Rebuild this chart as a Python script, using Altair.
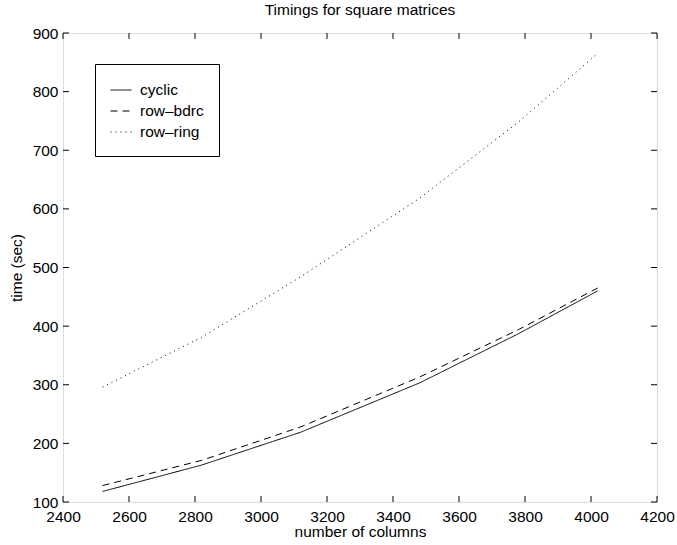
import altair as alt
import pandas as pd

# ---- data ----
columns = [2520, 2820, 3120, 3480, 3780, 4020]
cyclic = [118, 163, 219, 303, 387, 460]
row_bdrc = [128, 171, 228, 313, 394, 465]
row_ring = [296, 381, 484, 618, 748, 865]
series_names = ["cyclic", "row\u2013bdrc", "row\u2013ring"]
x_ticks = [2400, 2600, 2800, 3000, 3200, 3400, 3600, 3800, 4000, 4200]
y_ticks = [100, 200, 300, 400, 500, 600, 700, 800, 900]

rows = []
for name, vals in zip(series_names, [cyclic, row_bdrc, row_ring]):
    for c, v in zip(columns, vals):
        rows.append({"columns": c, "time": v, "series": name})
df = pd.DataFrame(rows)

W, H = 594, 469
FONT = "Liberation Sans"
FS = 15.5
TICK = 6

xscale = alt.Scale(domain=[2400, 4200], nice=False, zero=False)
yscale = alt.Scale(domain=[100, 900], nice=False, zero=False)

xaxis = alt.Axis(title="number of columns", values=x_ticks, tickSize=0, ticks=False,
                 labelPadding=7, domain=False, grid=False,
                 labelFont=FONT, labelFontSize=FS, labelColor="black",
                 titleFont=FONT, titleFontSize=FS, titleFontWeight="normal",
                 titleColor="black", titlePadding=0, format="d",
                 labelFlush=False)
yaxis = alt.Axis(title="time (sec)", values=y_ticks, tickSize=0, ticks=False,
                 labelPadding=5, domain=False, grid=False,
                 labelFont=FONT, labelFontSize=FS, labelColor="black",
                 titleFont=FONT, titleFontSize=FS, titleFontWeight="normal",
                 titleColor="black", titlePadding=8, format="d",
                 labelFlush=False)

lines = alt.Chart(df).mark_line(color="black", strokeWidth=1).encode(
    x=alt.X("columns:Q", scale=xscale, axis=xaxis),
    y=alt.Y("time:Q", scale=yscale, axis=yaxis),
    strokeDash=alt.StrokeDash(
        "series:N",
        scale=alt.Scale(domain=series_names, range=[[1, 0], [7, 5], [1, 4]]),
        legend=alt.Legend(title=None, orient="none", legendX=32, legendY=31,
                          strokeColor="black", fillColor="white", padding=15,
                          symbolType="stroke", symbolSize=441, symbolStrokeWidth=1,
                          symbolStrokeColor="black", labelFont=FONT,
                          labelFontSize=FS, labelColor="black", labelOffset=8,
                          rowPadding=1),
    ),
    detail="series:N",
)

xt = pd.DataFrame({"t": x_ticks})
yt = pd.DataFrame({"t": y_ticks})

xb = alt.Chart(xt).mark_rule(color="black", strokeWidth=1).encode(
    x=alt.X("t:Q", scale=xscale, axis=xaxis), y=alt.value(H), y2=alt.value(H - TICK))
xtp = alt.Chart(xt).mark_rule(color="black", strokeWidth=1).encode(
    x=alt.X("t:Q", scale=xscale, axis=xaxis), y=alt.value(0), y2=alt.value(TICK))
yl = alt.Chart(yt).mark_rule(color="black", strokeWidth=1).encode(
    y=alt.Y("t:Q", scale=yscale, axis=yaxis), x=alt.value(0), x2=alt.value(TICK))
yr = alt.Chart(yt).mark_rule(color="black", strokeWidth=1).encode(
    y=alt.Y("t:Q", scale=yscale, axis=yaxis), x=alt.value(W), x2=alt.value(W - TICK))

chart = alt.layer(lines, xb, xtp, yl, yr).properties(
    width=W, height=H,
    title=alt.TitleParams("Timings for square matrices", font=FONT, fontSize=FS,
                          fontWeight="normal", color="black", offset=8,
                          anchor="middle"),
    autosize=alt.AutoSizeParams(type="none"),
    padding={"left": 63, "top": 33, "right": 20, "bottom": 43},
).configure_view(stroke="black", strokeWidth=1.5).configure(background="white")

chart.save("out.html", embed_options={"renderer": "svg", "actions": False})
